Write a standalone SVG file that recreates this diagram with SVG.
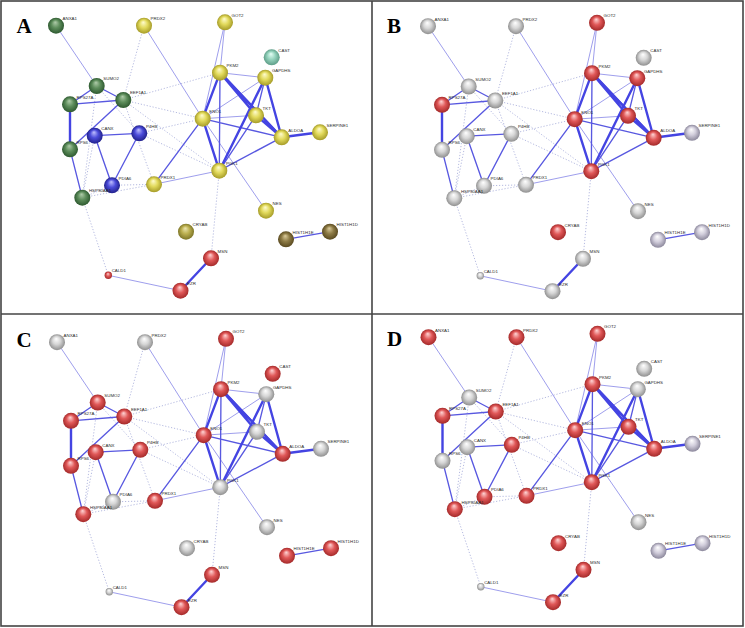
<svg xmlns="http://www.w3.org/2000/svg" xmlns:xlink="http://www.w3.org/1999/xlink" width="745" height="628" viewBox="0 0 745 628">
<style>
text{font-family:"Liberation Sans",Arial,sans-serif;font-size:4.4px;fill:#2a2a2a}
.lt{font-family:"Liberation Serif","Times New Roman",serif;font-weight:bold;font-size:21px;fill:#000}
.e1{stroke:#8c8ce8;stroke-width:0.85;fill:none}
.e2{stroke:#5858e0;stroke-width:1.35;fill:none}
.e3{stroke:#4444e2;stroke-width:2.4;fill:none}
.d{stroke:#a2a8d8;stroke-width:0.8;stroke-dasharray:1.2 1.8;fill:none}
.r circle{fill:url(#cr)}
.k circle{fill:url(#ck)}
.v circle{fill:url(#cv)}
.g circle{fill:url(#cg)}
.y circle{fill:url(#cy)}
.o circle{fill:url(#co)}
.b circle{fill:url(#cb)}
.t circle{fill:url(#ct)}
.w circle{fill:url(#cw)}
</style>
<defs>
<radialGradient id="cr" cx="0.5" cy="0.5" r="0.5" fx="0.45" fy="0.28"><stop offset="0" stop-color="#ffd6d6"/><stop offset="0.5" stop-color="#e05858"/><stop offset="1" stop-color="#a52a2a"/></radialGradient>
<radialGradient id="ck" cx="0.5" cy="0.5" r="0.5" fx="0.45" fy="0.28"><stop offset="0" stop-color="#ffffff"/><stop offset="0.5" stop-color="#d6d6d6"/><stop offset="1" stop-color="#909090"/></radialGradient>
<radialGradient id="cv" cx="0.5" cy="0.5" r="0.5" fx="0.45" fy="0.28"><stop offset="0" stop-color="#ffffff"/><stop offset="0.5" stop-color="#d2cedc"/><stop offset="1" stop-color="#8c889c"/></radialGradient>
<radialGradient id="cg" cx="0.5" cy="0.5" r="0.5" fx="0.45" fy="0.28"><stop offset="0" stop-color="#b0ccaa"/><stop offset="0.5" stop-color="#5e8e5c"/><stop offset="1" stop-color="#2e5a30"/></radialGradient>
<radialGradient id="cy" cx="0.5" cy="0.5" r="0.5" fx="0.45" fy="0.28"><stop offset="0" stop-color="#fffcd0"/><stop offset="0.5" stop-color="#e2da5c"/><stop offset="1" stop-color="#a69c28"/></radialGradient>
<radialGradient id="co" cx="0.5" cy="0.5" r="0.5" fx="0.45" fy="0.28"><stop offset="0" stop-color="#ece6b0"/><stop offset="0.5" stop-color="#bcb050"/><stop offset="1" stop-color="#7e7628"/></radialGradient>
<radialGradient id="cb" cx="0.5" cy="0.5" r="0.5" fx="0.45" fy="0.28"><stop offset="0" stop-color="#c0c0ff"/><stop offset="0.5" stop-color="#4c4cda"/><stop offset="1" stop-color="#22228c"/></radialGradient>
<radialGradient id="ct" cx="0.5" cy="0.5" r="0.5" fx="0.45" fy="0.28"><stop offset="0" stop-color="#e6fff6"/><stop offset="0.5" stop-color="#96d4be"/><stop offset="1" stop-color="#5e9e88"/></radialGradient>
<radialGradient id="cw" cx="0.5" cy="0.5" r="0.5" fx="0.45" fy="0.28"><stop offset="0" stop-color="#dccc9c"/><stop offset="0.5" stop-color="#8e7c46"/><stop offset="1" stop-color="#5a4a20"/></radialGradient>
<g id="edges">
<path class="d" d="M144 25.7L123.3 100M123.3 100L220 72.7M123.3 100L202.7 118.7M123.3 100L219.3 170.7M123.3 100L154 184.3M96.7 86L82.3 197.7M94.7 135.7L82.3 197.7M96.7 86L139.3 133.3M139.3 133.3L202.7 118.7M139.3 133.3L219.3 170.7M82.3 197.7L112 185.3M82.3 197.7L154 184.3M112 185.3L154 184.3M82.3 197.7L108.3 275.3M219.3 170.7L211 258.3"/>
<path class="e1" d="M56 25.7L96.7 86M144 25.7L202.7 118.7M225 22.3L220 72.7M225 22.3L202.7 118.7M220 72.7L265.3 77.7M265.3 77.7L202.7 118.7M202.7 118.7L256 115.3M202.7 118.7L266 210.7M219.3 170.7L154 184.3M108.3 275.3L180.5 290.7"/>
<path class="e2" d="M96.7 86L70 104.3M96.7 86L123.3 100M70 104.3L123.3 100M123.3 100L70 149.3M94.7 135.7L139.3 133.3M94.7 135.7L112 185.3M139.3 133.3L112 185.3M70 149.3L82.3 197.7M220 72.7L219.3 170.7M265.3 77.7L256 115.3M202.7 118.7L281.7 137.3M202.7 118.7L154 184.3M256 115.3L219.3 170.7M281.7 137.3L219.3 170.7M286 239.3L330 231.7M222 73.5L283 138.5"/>
<path class="e3" d="M70 104.3L70 149.3M220 72.7L202.7 118.7M220 72.7L256 115.3M220 72.7L281.7 137.3M265.3 77.7L281.7 137.3M265.3 77.7L219.3 170.7M202.7 118.7L219.3 170.7M256 115.3L281.7 137.3M281.7 137.3L320 132.3M211 258.3L180.5 290.7"/>
</g>
</defs>
<rect x="0" y="0" width="745" height="628" fill="#fff"/>
<g id="frame" fill="none" stroke="#444" stroke-width="1.6">
<rect x="1" y="1" width="742" height="625"/>
<line x1="372" y1="1" x2="372" y2="626"/>
<line x1="1" y1="314" x2="743" y2="314"/>
</g>
<g id="connectors">
<use xlink:href="#edges" href="#edges"/>
<use xlink:href="#edges" href="#edges" transform="translate(372 0.5)"/>
<use xlink:href="#edges" href="#edges" transform="translate(1 316.5)"/>
<use xlink:href="#edges" href="#edges" transform="translate(372.5 311.5)"/>
</g>
<g id="panelA">
<text class="lt" x="16.5" y="33.3">A</text>
<g id="A-ANXA1" class="g" transform="translate(56 25.7)"><circle r="8"/><text x="6.6" y="-5.6">ANXA1</text></g>
<g id="A-PRDX2" class="y" transform="translate(144 25.7)"><circle r="8"/><text x="6.6" y="-5.6">PRDX2</text></g>
<g id="A-GOT2" class="y" transform="translate(225 22.3)"><circle r="8"/><text x="6.6" y="-5.6">GOT2</text></g>
<g id="A-CAST" class="t" transform="translate(271.7 57.3)"><circle r="8"/><text x="6.6" y="-5.6">CAST</text></g>
<g id="A-SUMO2" class="g" transform="translate(96.7 86)"><circle r="8"/><text x="6.6" y="-5.6">SUMO2</text></g>
<g id="A-RPS27A" class="g" transform="translate(70 104.3)"><circle r="8"/><text x="6.6" y="-5.6">RPS27A</text></g>
<g id="A-EEF1A1" class="g" transform="translate(123.3 100)"><circle r="8"/><text x="6.6" y="-5.6">EEF1A1</text></g>
<g id="A-PKM2" class="y" transform="translate(220 72.7)"><circle r="8"/><text x="6.6" y="-5.6">PKM2</text></g>
<g id="A-GAPDHS" class="y" transform="translate(265.3 77.7)"><circle r="8"/><text x="6.6" y="-5.6">GAPDHS</text></g>
<g id="A-CANX" class="b" transform="translate(94.7 135.7)"><circle r="8"/><text x="6.6" y="-5.6">CANX</text></g>
<g id="A-P4HB" class="b" transform="translate(139.3 133.3)"><circle r="8"/><text x="6.6" y="-5.6">P4HB</text></g>
<g id="A-RPS6" class="g" transform="translate(70 149.3)"><circle r="8"/><text x="6.6" y="-5.6">RPS6</text></g>
<g id="A-ENO1" class="y" transform="translate(202.7 118.7)"><circle r="8"/><text x="6.6" y="-5.6">ENO1</text></g>
<g id="A-TKT" class="y" transform="translate(256 115.3)"><circle r="8"/><text x="6.6" y="-5.6">TKT</text></g>
<g id="A-ALDOA" class="y" transform="translate(281.7 137.3)"><circle r="8"/><text x="6.6" y="-5.6">ALDOA</text></g>
<g id="A-SERPINE1" class="y" transform="translate(320 132.3)"><circle r="8"/><text x="6.6" y="-5.6">SERPINE1</text></g>
<g id="A-PDIA6" class="b" transform="translate(112 185.3)"><circle r="8"/><text x="6.6" y="-5.6">PDIA6</text></g>
<g id="A-PRDX1" class="y" transform="translate(154 184.3)"><circle r="8"/><text x="6.6" y="-5.6">PRDX1</text></g>
<g id="A-HSP90AA1" class="g" transform="translate(82.3 197.7)"><circle r="8"/><text x="6.6" y="-5.6">HSP90AA1</text></g>
<g id="A-PGK1" class="y" transform="translate(219.3 170.7)"><circle r="8"/><text x="6.6" y="-5.6">PGK1</text></g>
<g id="A-NES" class="y" transform="translate(266 210.7)"><circle r="8"/><text x="6.6" y="-5.6">NES</text></g>
<g id="A-CRYAB" class="o" transform="translate(186 231.7)"><circle r="8"/><text x="6.6" y="-5.6">CRYAB</text></g>
<g id="A-HIST1H1E" class="w" transform="translate(286 239.3)"><circle r="8"/><text x="6.6" y="-5.6">HIST1H1E</text></g>
<g id="A-HIST1H1D" class="w" transform="translate(330 231.7)"><circle r="8"/><text x="6.6" y="-5.6">HIST1H1D</text></g>
<g id="A-MSN" class="r" transform="translate(211 258.3)"><circle r="8"/><text x="6.6" y="-5.6">MSN</text></g>
<g id="A-EZR" class="r" transform="translate(180.5 290.7)"><circle r="8"/><text x="6.6" y="-5.6">EZR</text></g>
<g id="A-CALD1" class="r" transform="translate(108.3 275.3)"><circle r="3.7"/><text x="3.4" y="-3.2">CALD1</text></g>
</g>
<g id="panelB" transform="translate(372 0.5)">
<text class="lt" x="15" y="32.8">B</text>
<g id="B-ANXA1" class="k" transform="translate(56 25.7)"><circle r="8"/><text x="6.6" y="-5.6">ANXA1</text></g>
<g id="B-PRDX2" class="k" transform="translate(144 25.7)"><circle r="8"/><text x="6.6" y="-5.6">PRDX2</text></g>
<g id="B-GOT2" class="r" transform="translate(225 22.3)"><circle r="8"/><text x="6.6" y="-5.6">GOT2</text></g>
<g id="B-CAST" class="k" transform="translate(271.7 57.3)"><circle r="8"/><text x="6.6" y="-5.6">CAST</text></g>
<g id="B-SUMO2" class="k" transform="translate(96.7 86)"><circle r="8"/><text x="6.6" y="-5.6">SUMO2</text></g>
<g id="B-RPS27A" class="r" transform="translate(70 104.3)"><circle r="8"/><text x="6.6" y="-5.6">RPS27A</text></g>
<g id="B-EEF1A1" class="k" transform="translate(123.3 100)"><circle r="8"/><text x="6.6" y="-5.6">EEF1A1</text></g>
<g id="B-PKM2" class="r" transform="translate(220 72.7)"><circle r="8"/><text x="6.6" y="-5.6">PKM2</text></g>
<g id="B-GAPDHS" class="r" transform="translate(265.3 77.7)"><circle r="8"/><text x="6.6" y="-5.6">GAPDHS</text></g>
<g id="B-CANX" class="k" transform="translate(94.7 135.7)"><circle r="8"/><text x="6.6" y="-5.6">CANX</text></g>
<g id="B-P4HB" class="k" transform="translate(139.3 133.3)"><circle r="8"/><text x="6.6" y="-5.6">P4HB</text></g>
<g id="B-RPS6" class="k" transform="translate(70 149.3)"><circle r="8"/><text x="6.6" y="-5.6">RPS6</text></g>
<g id="B-ENO1" class="r" transform="translate(202.7 118.7)"><circle r="8"/><text x="6.6" y="-5.6">ENO1</text></g>
<g id="B-TKT" class="r" transform="translate(256 115.3)"><circle r="8"/><text x="6.6" y="-5.6">TKT</text></g>
<g id="B-ALDOA" class="r" transform="translate(281.7 137.3)"><circle r="8"/><text x="6.6" y="-5.6">ALDOA</text></g>
<g id="B-SERPINE1" class="v" transform="translate(320 132.3)"><circle r="8"/><text x="6.6" y="-5.6">SERPINE1</text></g>
<g id="B-PDIA6" class="k" transform="translate(112 185.3)"><circle r="8"/><text x="6.6" y="-5.6">PDIA6</text></g>
<g id="B-PRDX1" class="k" transform="translate(154 184.3)"><circle r="8"/><text x="6.6" y="-5.6">PRDX1</text></g>
<g id="B-HSP90AA1" class="k" transform="translate(82.3 197.7)"><circle r="8"/><text x="6.6" y="-5.6">HSP90AA1</text></g>
<g id="B-PGK1" class="r" transform="translate(219.3 170.7)"><circle r="8"/><text x="6.6" y="-5.6">PGK1</text></g>
<g id="B-NES" class="k" transform="translate(266 210.7)"><circle r="8"/><text x="6.6" y="-5.6">NES</text></g>
<g id="B-CRYAB" class="r" transform="translate(186 231.7)"><circle r="8"/><text x="6.6" y="-5.6">CRYAB</text></g>
<g id="B-HIST1H1E" class="v" transform="translate(286 239.3)"><circle r="8"/><text x="6.6" y="-5.6">HIST1H1E</text></g>
<g id="B-HIST1H1D" class="v" transform="translate(330 231.7)"><circle r="8"/><text x="6.6" y="-5.6">HIST1H1D</text></g>
<g id="B-MSN" class="k" transform="translate(211 258.3)"><circle r="8"/><text x="6.6" y="-5.6">MSN</text></g>
<g id="B-EZR" class="k" transform="translate(180.5 290.7)"><circle r="8"/><text x="6.6" y="-5.6">EZR</text></g>
<g id="B-CALD1" class="k" transform="translate(108.3 275.3)"><circle r="3.7"/><text x="3.4" y="-3.2">CALD1</text></g>
</g>
<g id="panelC" transform="translate(1 316.5)">
<text class="lt" x="15.5" y="30">C</text>
<g id="C-ANXA1" class="k" transform="translate(56 25.7)"><circle r="8"/><text x="6.6" y="-5.6">ANXA1</text></g>
<g id="C-PRDX2" class="k" transform="translate(144 25.7)"><circle r="8"/><text x="6.6" y="-5.6">PRDX2</text></g>
<g id="C-GOT2" class="r" transform="translate(225 22.3)"><circle r="8"/><text x="6.6" y="-5.6">GOT2</text></g>
<g id="C-CAST" class="r" transform="translate(271.7 57.3)"><circle r="8"/><text x="6.6" y="-5.6">CAST</text></g>
<g id="C-SUMO2" class="r" transform="translate(96.7 86)"><circle r="8"/><text x="6.6" y="-5.6">SUMO2</text></g>
<g id="C-RPS27A" class="r" transform="translate(70 104.3)"><circle r="8"/><text x="6.6" y="-5.6">RPS27A</text></g>
<g id="C-EEF1A1" class="r" transform="translate(123.3 100)"><circle r="8"/><text x="6.6" y="-5.6">EEF1A1</text></g>
<g id="C-PKM2" class="r" transform="translate(220 72.7)"><circle r="8"/><text x="6.6" y="-5.6">PKM2</text></g>
<g id="C-GAPDHS" class="k" transform="translate(265.3 77.7)"><circle r="8"/><text x="6.6" y="-5.6">GAPDHS</text></g>
<g id="C-CANX" class="r" transform="translate(94.7 135.7)"><circle r="8"/><text x="6.6" y="-5.6">CANX</text></g>
<g id="C-P4HB" class="r" transform="translate(139.3 133.3)"><circle r="8"/><text x="6.6" y="-5.6">P4HB</text></g>
<g id="C-RPS6" class="r" transform="translate(70 149.3)"><circle r="8"/><text x="6.6" y="-5.6">RPS6</text></g>
<g id="C-ENO1" class="r" transform="translate(202.7 118.7)"><circle r="8"/><text x="6.6" y="-5.6">ENO1</text></g>
<g id="C-TKT" class="k" transform="translate(256 115.3)"><circle r="8"/><text x="6.6" y="-5.6">TKT</text></g>
<g id="C-ALDOA" class="r" transform="translate(281.7 137.3)"><circle r="8"/><text x="6.6" y="-5.6">ALDOA</text></g>
<g id="C-SERPINE1" class="k" transform="translate(320 132.3)"><circle r="8"/><text x="6.6" y="-5.6">SERPINE1</text></g>
<g id="C-PDIA6" class="k" transform="translate(112 185.3)"><circle r="8"/><text x="6.6" y="-5.6">PDIA6</text></g>
<g id="C-PRDX1" class="r" transform="translate(154 184.3)"><circle r="8"/><text x="6.6" y="-5.6">PRDX1</text></g>
<g id="C-HSP90AA1" class="r" transform="translate(82.3 197.7)"><circle r="8"/><text x="6.6" y="-5.6">HSP90AA1</text></g>
<g id="C-PGK1" class="k" transform="translate(219.3 170.7)"><circle r="8"/><text x="6.6" y="-5.6">PGK1</text></g>
<g id="C-NES" class="k" transform="translate(266 210.7)"><circle r="8"/><text x="6.6" y="-5.6">NES</text></g>
<g id="C-CRYAB" class="k" transform="translate(186 231.7)"><circle r="8"/><text x="6.6" y="-5.6">CRYAB</text></g>
<g id="C-HIST1H1E" class="r" transform="translate(286 239.3)"><circle r="8"/><text x="6.6" y="-5.6">HIST1H1E</text></g>
<g id="C-HIST1H1D" class="r" transform="translate(330 231.7)"><circle r="8"/><text x="6.6" y="-5.6">HIST1H1D</text></g>
<g id="C-MSN" class="r" transform="translate(211 258.3)"><circle r="8"/><text x="6.6" y="-5.6">MSN</text></g>
<g id="C-EZR" class="r" transform="translate(180.5 290.7)"><circle r="8"/><text x="6.6" y="-5.6">EZR</text></g>
<g id="C-CALD1" class="k" transform="translate(108.3 275.3)"><circle r="3.7"/><text x="3.4" y="-3.2">CALD1</text></g>
</g>
<g id="panelD" transform="translate(372.5 311.5)">
<text class="lt" x="14.5" y="34.5">D</text>
<g id="D-ANXA1" class="r" transform="translate(56 25.7)"><circle r="8"/><text x="6.6" y="-5.6">ANXA1</text></g>
<g id="D-PRDX2" class="r" transform="translate(144 25.7)"><circle r="8"/><text x="6.6" y="-5.6">PRDX2</text></g>
<g id="D-GOT2" class="r" transform="translate(225 22.3)"><circle r="8"/><text x="6.6" y="-5.6">GOT2</text></g>
<g id="D-CAST" class="k" transform="translate(271.7 57.3)"><circle r="8"/><text x="6.6" y="-5.6">CAST</text></g>
<g id="D-SUMO2" class="k" transform="translate(96.7 86)"><circle r="8"/><text x="6.6" y="-5.6">SUMO2</text></g>
<g id="D-RPS27A" class="r" transform="translate(70 104.3)"><circle r="8"/><text x="6.6" y="-5.6">RPS27A</text></g>
<g id="D-EEF1A1" class="r" transform="translate(123.3 100)"><circle r="8"/><text x="6.6" y="-5.6">EEF1A1</text></g>
<g id="D-PKM2" class="r" transform="translate(220 72.7)"><circle r="8"/><text x="6.6" y="-5.6">PKM2</text></g>
<g id="D-GAPDHS" class="k" transform="translate(265.3 77.7)"><circle r="8"/><text x="6.6" y="-5.6">GAPDHS</text></g>
<g id="D-CANX" class="k" transform="translate(94.7 135.7)"><circle r="8"/><text x="6.6" y="-5.6">CANX</text></g>
<g id="D-P4HB" class="r" transform="translate(139.3 133.3)"><circle r="8"/><text x="6.6" y="-5.6">P4HB</text></g>
<g id="D-RPS6" class="k" transform="translate(70 149.3)"><circle r="8"/><text x="6.6" y="-5.6">RPS6</text></g>
<g id="D-ENO1" class="r" transform="translate(202.7 118.7)"><circle r="8"/><text x="6.6" y="-5.6">ENO1</text></g>
<g id="D-TKT" class="r" transform="translate(256 115.3)"><circle r="8"/><text x="6.6" y="-5.6">TKT</text></g>
<g id="D-ALDOA" class="r" transform="translate(281.7 137.3)"><circle r="8"/><text x="6.6" y="-5.6">ALDOA</text></g>
<g id="D-SERPINE1" class="v" transform="translate(320 132.3)"><circle r="8"/><text x="6.6" y="-5.6">SERPINE1</text></g>
<g id="D-PDIA6" class="r" transform="translate(112 185.3)"><circle r="8"/><text x="6.6" y="-5.6">PDIA6</text></g>
<g id="D-PRDX1" class="r" transform="translate(154 184.3)"><circle r="8"/><text x="6.6" y="-5.6">PRDX1</text></g>
<g id="D-HSP90AA1" class="r" transform="translate(82.3 197.7)"><circle r="8"/><text x="6.6" y="-5.6">HSP90AA1</text></g>
<g id="D-PGK1" class="r" transform="translate(219.3 170.7)"><circle r="8"/><text x="6.6" y="-5.6">PGK1</text></g>
<g id="D-NES" class="k" transform="translate(266 210.7)"><circle r="8"/><text x="6.6" y="-5.6">NES</text></g>
<g id="D-CRYAB" class="r" transform="translate(186 231.7)"><circle r="8"/><text x="6.6" y="-5.6">CRYAB</text></g>
<g id="D-HIST1H1E" class="v" transform="translate(286 239.3)"><circle r="8"/><text x="6.6" y="-5.6">HIST1H1E</text></g>
<g id="D-HIST1H1D" class="v" transform="translate(330 231.7)"><circle r="8"/><text x="6.6" y="-5.6">HIST1H1D</text></g>
<g id="D-MSN" class="r" transform="translate(211 258.3)"><circle r="8"/><text x="6.6" y="-5.6">MSN</text></g>
<g id="D-EZR" class="r" transform="translate(180.5 290.7)"><circle r="8"/><text x="6.6" y="-5.6">EZR</text></g>
<g id="D-CALD1" class="k" transform="translate(108.3 275.3)"><circle r="3.7"/><text x="3.4" y="-3.2">CALD1</text></g>
</g>
</svg>
